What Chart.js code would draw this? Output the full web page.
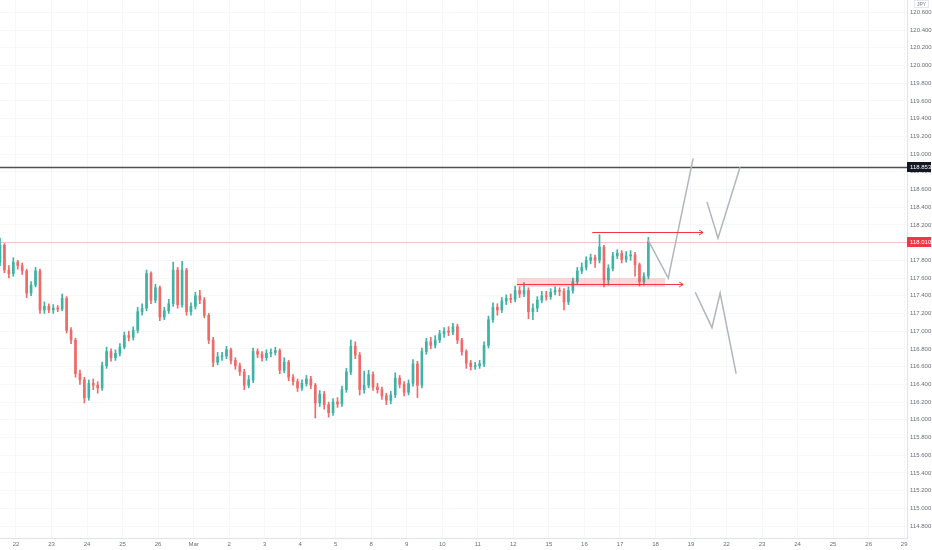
<!DOCTYPE html>
<html><head><meta charset="utf-8">
<script src="https://cdn.jsdelivr.net/npm/chart.js@4/dist/chart.umd.min.js"></script>
<style>html,body{margin:0;padding:0;background:#fff;}canvas{display:block;}</style>
</head><body>
<canvas id="c" width="932" height="550"></canvas>
<script>
// ---- data ----
const dayLabels = ['22','23','24','25','26','Mar','2','3','4','5','8','9','10','11','12','15','16','17','18','19','22','23','24','25','26','29'];
const firstBarDay = -0.45;
const barsPerDay = 8;
const firstOpen = 117.78;
const closes = [117.97,117.69,117.65,117.78,117.74,117.68,117.43,117.52,117.68,117.24,
117.28,117.24,117.26,117.25,117.37,117.01,116.90,116.52,116.45,116.25,
116.41,116.39,116.36,116.61,116.77,116.70,116.75,116.82,116.95,116.93,
117.01,117.22,117.26,117.65,117.35,117.49,117.16,117.23,117.31,117.69,
117.30,117.69,117.22,117.28,117.40,117.35,117.18,116.90,116.65,116.71,
116.72,116.79,116.67,116.61,116.54,116.39,116.45,116.77,116.74,116.70,
116.75,116.76,116.78,116.56,116.65,116.48,116.43,116.36,116.41,116.46,
116.39,116.19,116.29,116.17,116.08,116.20,116.18,116.34,116.54,116.83,
116.73,116.34,116.39,116.51,116.37,116.34,116.27,116.22,116.28,116.47,
116.40,116.31,116.41,116.63,116.39,116.77,116.88,116.84,116.90,116.97,
117.00,116.99,117.05,116.90,116.77,116.64,116.60,116.61,116.63,116.84,
117.13,117.27,117.24,117.34,117.37,117.36,117.46,117.42,117.46,117.22,
117.26,117.35,117.40,117.39,117.44,117.46,117.45,117.33,117.46,117.56,
117.68,117.72,117.80,117.83,117.80,117.95,117.58,117.71,117.85,117.88,
117.81,117.85,117.86,117.75,117.56,117.62,118.01];
const highs = [118.05,117.99,117.74,117.83,117.80,117.77,117.70,117.56,117.72,117.70,
117.33,117.31,117.30,117.29,117.42,117.39,117.04,116.92,116.56,116.48,
116.45,116.46,116.43,116.65,116.82,116.80,116.79,116.86,116.99,117.00,
117.05,117.27,117.31,117.69,117.67,117.53,117.51,117.27,117.36,117.78,
117.72,117.79,117.71,117.32,117.44,117.46,117.38,117.20,116.93,116.76,
116.76,116.83,116.81,116.70,116.64,116.57,116.50,116.81,116.80,116.77,
116.79,116.80,116.82,116.80,116.70,116.67,116.51,116.46,116.45,116.50,
116.49,116.41,116.33,116.32,116.20,116.24,116.25,116.38,116.58,116.90,
116.88,116.76,116.55,116.56,116.54,116.41,116.37,116.30,116.32,116.53,
116.50,116.43,116.45,116.68,116.66,116.81,116.92,116.93,116.95,117.01,
117.04,117.05,117.09,117.08,116.92,116.79,116.67,116.65,116.67,116.88,
117.17,117.32,117.31,117.38,117.41,117.42,117.51,117.50,117.55,117.49,
117.31,117.39,117.45,117.45,117.48,117.50,117.49,117.48,117.50,117.60,
117.72,117.77,117.84,117.87,117.86,118.09,117.97,117.75,117.89,117.92,
117.91,117.90,117.91,117.89,117.77,117.66,118.06];
const lows = [117.74,117.66,117.60,117.62,117.70,117.64,117.38,117.40,117.50,117.20,
117.20,117.21,117.20,117.22,117.23,116.98,116.86,116.48,116.40,116.19,
116.22,116.34,116.30,116.33,116.58,116.66,116.67,116.72,116.80,116.89,
116.90,116.98,117.18,117.23,117.31,117.32,117.12,117.13,117.20,117.28,
117.26,117.27,117.18,117.18,117.25,117.31,117.15,116.86,116.60,116.62,
116.67,116.69,116.63,116.57,116.50,116.34,116.36,116.42,116.70,116.66,
116.67,116.71,116.73,116.52,116.53,116.44,116.39,116.32,116.33,116.38,
116.35,116.02,116.15,116.12,116.03,116.05,116.14,116.15,116.31,116.51,
116.69,116.28,116.30,116.36,116.33,116.30,116.23,116.17,116.18,116.25,
116.36,116.27,116.28,116.38,116.25,116.36,116.74,116.80,116.81,116.87,
116.93,116.95,116.96,116.86,116.73,116.58,116.56,116.57,116.58,116.60,
116.81,117.10,117.18,117.21,117.30,117.32,117.33,117.38,117.39,117.14,
117.13,117.22,117.32,117.35,117.36,117.41,117.40,117.24,117.30,117.43,
117.53,117.65,117.69,117.76,117.72,117.77,117.50,117.52,117.68,117.82,
117.77,117.78,117.80,117.62,117.51,117.52,117.59];
const priceTicks = [114.8,115.0,115.2,115.4,115.6,115.8,116.0,116.2,116.4,116.6,116.8,117.0,117.2,117.4,117.6,117.8,118.0,118.2,118.4,118.6,118.8,119.0,119.2,119.4,119.6,119.8,120.0,120.2,120.4,120.6];
const keyLevel = 118.853;
const currencyLabel = 'JPY';
// projection paths [day, price]
const pathUp = [[17.79,118.03],[18.36,117.60],[19.06,118.95]];
const pathUp2 = [[19.45,118.46],[19.76,118.05],[20.38,118.85]];
const pathDown = [[19.12,117.44],[19.59,117.04],[19.82,117.43],[20.27,116.52]];
// red arrows [startDay, endDay, price]
const arrowHigh = [16.22, 19.34, 118.12];
const arrowLow = [14.10, 18.78, 117.53];
// support zone [startDay, endDay, lowPrice, highPrice]
const zone = [14.10, 18.27, 117.50, 117.60];

// ---- build ----
const UP = '#3fb3a6', DOWN = '#f06a67';
const opens = closes.map((c,i)=> i===0 ? firstOpen : closes[i-1]);
const xs = closes.map((c,i)=> firstBarDay + i/barsPerDay);
const barColors = closes.map((c,i)=> c >= opens[i] ? UP : DOWN);
const bodyData = closes.map((c,i)=>({x: xs[i], y: [opens[i], c]}));
const wickData = closes.map((c,i)=>({x: xs[i], y: [Math.min(lows[i], opens[i], c), Math.max(highs[i], opens[i], c)]}));
const lastClose = closes[closes.length-1];
const toPts = a => a.map(p=>({x:p[0], y:p[1]}));

const lineDs = (pts, color, w) => ({type:'line', data: pts, borderColor: color, borderWidth: w, pointRadius: 0, tension: 0, fill: false, order: 0});

const overlay = {
  id: 'overlay',
  beforeDatasetsDraw(chart){
    const {ctx, chartArea:a, scales:{x, y}} = chart;
    ctx.save();
    ctx.beginPath(); ctx.rect(a.left, a.top, a.right-a.left, a.bottom-a.top); ctx.clip();
    ctx.strokeStyle = '#505050'; ctx.lineWidth = 1.3;
    let yy = Math.round(y.getPixelForValue(keyLevel)) + 0.5;
    ctx.beginPath(); ctx.moveTo(a.left, yy); ctx.lineTo(a.right, yy); ctx.stroke();
    ctx.strokeStyle = 'rgba(242,54,69,0.28)'; ctx.lineWidth = 1;
    yy = Math.round(y.getPixelForValue(lastClose)) + 0.5;
    ctx.beginPath(); ctx.moveTo(a.left, yy); ctx.lineTo(a.right, yy); ctx.stroke();
    ctx.restore();
  },
  afterDatasetsDraw(chart){
    const {ctx, chartArea:a, scales:{x, y}} = chart;
    ctx.save();
    const zx1 = x.getPixelForValue(zone[0]), zx2 = x.getPixelForValue(zone[1]);
    const zy1 = y.getPixelForValue(zone[3]), zy2 = y.getPixelForValue(zone[2]);
    ctx.fillStyle = 'rgba(242,54,69,0.2)';
    ctx.fillRect(zx1, zy1, zx2-zx1, zy2-zy1);
    [arrowHigh, arrowLow].forEach(ar=>{
      const x1 = x.getPixelForValue(ar[0]), x2 = x.getPixelForValue(ar[1]);
      const py = Math.round(y.getPixelForValue(ar[2])) + 0.5;
      ctx.strokeStyle = '#f23645'; ctx.lineWidth = 1;
      ctx.beginPath(); ctx.moveTo(x1, py); ctx.lineTo(x2, py); ctx.stroke();
      ctx.beginPath(); ctx.moveTo(x2-4, py-2.5); ctx.lineTo(x2, py); ctx.lineTo(x2-4, py+2.5); ctx.stroke();
    });
    ctx.restore();
  },
  afterDraw(chart){
    const {ctx, chartArea:a, scales:{y}} = chart;
    ctx.save();
    ctx.font = '5px "Liberation Sans", Arial, sans-serif';
    ctx.textBaseline = 'middle';
    ctx.strokeStyle = '#e6e8ee'; ctx.lineWidth = 1;
    ctx.strokeRect(a.right+7.5, 0.5, 14, 7);
    ctx.fillStyle = '#787b86'; ctx.textAlign = 'center';
    ctx.fillText(currencyLabel, a.right+14.5, 4.2);
    ctx.font = '6px "Liberation Sans", Arial, sans-serif';
    const tag = (v, bg) => {
      const py = y.getPixelForValue(v);
      ctx.fillStyle = bg; ctx.fillRect(a.right, Math.round(py)-5, 24, 10);
      ctx.fillStyle = '#fff'; ctx.textAlign = 'left';
      ctx.fillText(v.toFixed(3), a.right+3, Math.round(py)+0.5);
    };
    tag(keyLevel, '#131722');
    tag(lastClose, '#f23645');
    ctx.restore();
  }
};

new Chart(document.getElementById('c'), {
  type: 'bar',
  data: {
    datasets: [
      {label:'wick', data: wickData, backgroundColor: barColors, barThickness: 1, grouped: false, order: 2},
      {label:'body', data: bodyData, backgroundColor: barColors, barThickness: 2, minBarLength: 1, grouped: false, order: 1},
      lineDs(toPts(pathUp), '#b2b5be', 1.5),
      lineDs(toPts(pathUp2), '#b2b5be', 1.5),
      lineDs(toPts(pathDown), '#b2b5be', 1.5)
    ]
  },
  options: {
    responsive: false, animation: false,
    layout: {padding: 0},
    plugins: {legend: {display: false}, tooltip: {enabled: false}},
    scales: {
      x: {
        type: 'linear', offset: false,
        min: firstBarDay, max: 25.08,
        afterBuildTicks: s => { s.ticks = dayLabels.map((l,i)=>({value:i})); },
        afterFit: s => { s.height = 12; s.paddingLeft = 0; s.paddingRight = 0; },
        grid: {color: '#f6f7f9', drawTicks: false, offset: false},
        border: {color: '#e0e3eb'},
        ticks: {autoSkip: false, maxRotation: 0, padding: 3, color: '#6a6d78',
          font: {size: 6, family: '"Liberation Sans", Arial, sans-serif'},
          callback: v => dayLabels[v] }
      },
      y: {
        position: 'right', beginAtZero: false,
        min: 114.665, max: 120.739,
        afterBuildTicks: s => { s.ticks = priceTicks.map(v=>({value:v})); },
        afterFit: s => { s.width = 25; s.paddingTop = 0; s.paddingBottom = 0; },
        grid: {color: '#f6f7f9', drawTicks: false},
        border: {color: '#e0e3eb'},
        ticks: {padding: 3, color: '#6a6d78', crossAlign: 'near',
          font: {size: 6, family: '"Liberation Sans", Arial, sans-serif'},
          callback: v => Number(v).toFixed(3) }
      }
    }
  },
  plugins: [overlay]
});
</script>
</body></html>
